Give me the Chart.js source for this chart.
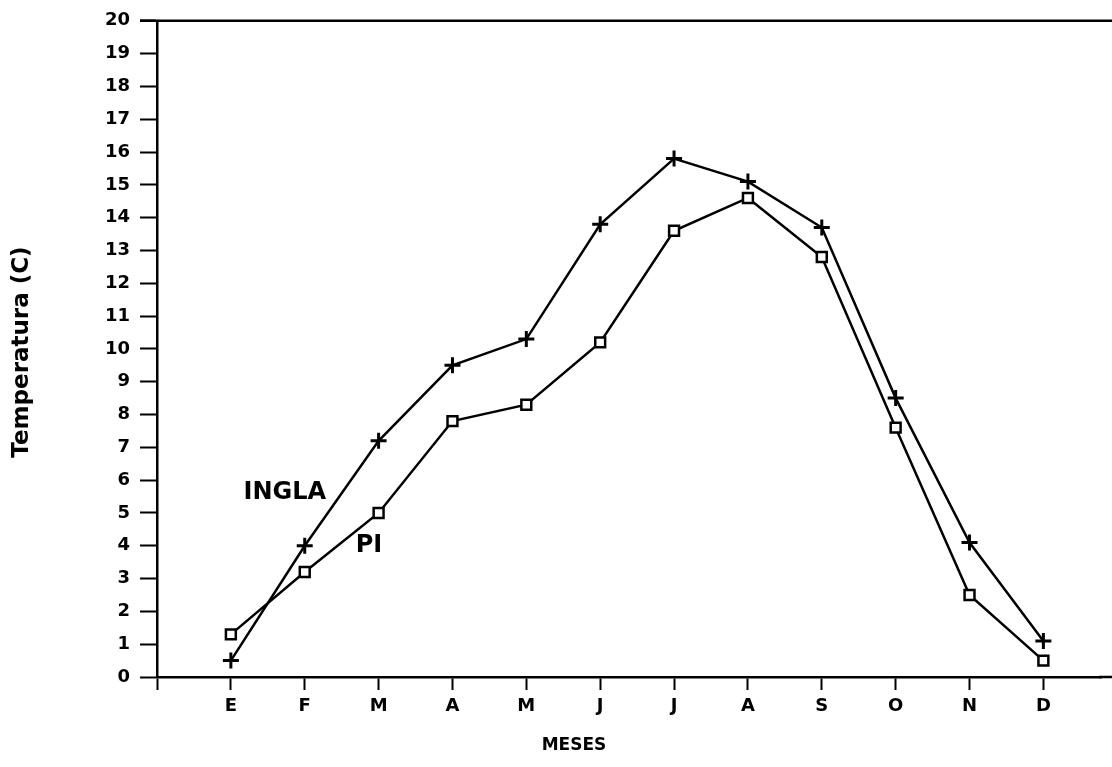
<!DOCTYPE html>
<html>
<head>
<meta charset="utf-8">
<script src="https://cdn.jsdelivr.net/npm/chart.js@4.4.1/dist/chart.umd.min.js"></script>
<style>
  html, body { margin: 0; padding: 0; background: #fff; }
  #grafico { display: block; }
</style>
</head>
<body>
<canvas id="grafico" width="1112" height="767"></canvas>
<script>
// Meses (posição 0..11); a posição -1 fica vazia junto ao eixo
const MESES = ["E", "F", "M", "A", "M", "J", "J", "A", "S", "O", "N", "D"];

// Temperatura média mensal (°C)
const INGLA = [0.5, 4.0, 7.2, 9.5, 10.3, 13.8, 15.8, 15.1, 13.7, 8.5, 4.1, 1.1];
const PI    = [1.3, 3.2, 5.0, 7.8, 8.3, 10.2, 13.6, 14.6, 12.8, 7.6, 2.5, 0.5];

const FONTE = "'DejaVu Sans', 'Liberation Sans', sans-serif";

function pontos(valores) {
  return valores.map((v, i) => ({ x: i, y: v }));
}

// Moldura (topo e prolongamento do eixo X), rótulos das séries e títulos
const extras = {
  id: "extras",
  afterDatasetsDraw(chart) {
    const { ctx, chartArea, scales } = chart;
    ctx.save();
    ctx.strokeStyle = "#000";
    ctx.lineWidth = 2.5;
    ctx.beginPath();
    ctx.moveTo(chartArea.left - 17, chartArea.top);
    ctx.lineTo(chart.width, chartArea.top);
    ctx.moveTo(chartArea.right - 2, chartArea.bottom);
    ctx.lineTo(chart.width, chartArea.bottom);
    ctx.stroke();

    ctx.fillStyle = "#000";
    ctx.font = "bold 24px " + FONTE;
    ctx.textAlign = "center";
    ctx.textBaseline = "middle";
    ctx.fillText("INGLA", scales.x.getPixelForValue(0.73), scales.y.getPixelForValue(5.6));
    ctx.fillText("PI", scales.x.getPixelForValue(1.87), scales.y.getPixelForValue(4.0));

    // Título do eixo X
    ctx.font = "bold 17px " + FONTE;
    ctx.fillText("MESES", 574, 746);

    // Título do eixo Y (rotado)
    ctx.font = "bold 23px " + FONTE;
    ctx.translate(22, 352);
    ctx.rotate(-Math.PI / 2);
    ctx.fillText("Temperatura (C)", 0, 0);
    ctx.restore();
  },
};

new Chart(document.getElementById("grafico"), {
  type: "line",
  data: {
    datasets: [
      {
        label: "INGLA",
        data: pontos(INGLA),
        borderColor: "#000",
        borderWidth: 2.5,
        pointStyle: "cross",
        pointRadius: 8,
        pointBorderWidth: 3,
        pointBorderColor: "#000",
        tension: 0,
      },
      {
        label: "PI",
        data: pontos(PI),
        borderColor: "#000",
        borderWidth: 2.5,
        pointStyle: "rect",
        pointRadius: 7,
        pointBorderWidth: 2.5,
        pointBorderColor: "#000",
        pointBackgroundColor: "#fff",
        tension: 0,
      },
    ],
  },
  options: {
    responsive: false,
    animation: false,
    layout: { padding: { top: 17, right: 0, left: 0, bottom: 0 } },
    plugins: {
      legend: { display: false },
      tooltip: { enabled: false },
    },
    scales: {
      x: {
        type: "linear",
        min: -1,
        max: 11.78,
        afterFit: s => { s.height = 90; },
        afterBuildTicks: s => {
          s.ticks = [-1, 0, 1, 2, 3, 4, 5, 6, 7, 8, 9, 10, 11].map(v => ({ value: v }));
        },
        ticks: {
          autoSkip: false,
          maxRotation: 0,
          color: "#000",
          padding: 6,
          font: { family: FONTE, size: 18, weight: "bold" },
          callback: v => (v >= 0 && v < MESES.length ? MESES[v] : ""),
        },
        grid: {
          drawOnChartArea: false,
          drawTicks: true,
          tickLength: 13,
          tickWidth: 2,
          tickColor: "#000",
        },
        border: { color: "#000", width: 2.5 },
      },
      y: {
        min: 0,
        max: 20,
        afterFit: s => { s.width = 157; },
        ticks: {
          stepSize: 1,
          color: "#000",
          padding: 10,
          font: { family: FONTE, size: 18, weight: "bold" },
        },
        grid: {
          drawOnChartArea: false,
          drawTicks: true,
          tickLength: 17,
          tickWidth: 2,
          tickColor: "#000",
        },
        border: { color: "#000", width: 2.5 },
      },
    },
  },
  plugins: [extras],
});
</script>
</body>
</html>
